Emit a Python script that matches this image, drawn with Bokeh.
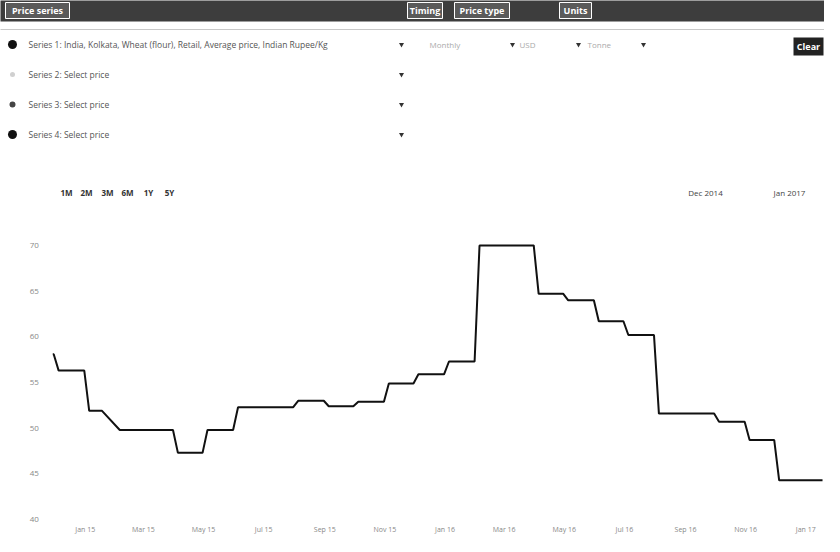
import pandas as pd
from bokeh.plotting import figure
from bokeh.layouts import column
from bokeh.models import Range1d, FixedTicker, DatetimeTickFormatter
from bokeh.core.properties import value
from bokeh.embed import file_html
from bokeh.resources import INLINE

# ---------------- data ----------------
months = ["2014-11", "2014-12", "2015-01", "2015-02", "2015-03", "2015-04", "2015-05",
          "2015-06", "2015-07", "2015-08", "2015-09", "2015-10", "2015-11", "2015-12",
          "2016-01", "2016-02", "2016-03", "2016-04", "2016-05", "2016-06", "2016-07",
          "2016-08", "2016-09", "2016-10", "2016-11", "2016-12", "2017-01"]
prices = [58.1, 56.3, 51.9, 49.8, 49.8, 47.3, 49.8,
          52.3, 52.3, 53.0, 52.4, 52.9, 54.9, 55.9,
          57.3, 70.0, 70.0, 64.7, 64.0, 61.7, 60.2,
          51.6, 51.6, 50.7, 48.7, 44.3, 44.3]
first_obs_day = {"2014-11": 29}
last_obs_day = {"2015-01": 18, "2017-01": 18}
y_ticks = [40, 45, 50, 55, 60, 65, 70]
x_tick_months = ["2015-01", "2015-03", "2015-05", "2015-07", "2015-09", "2015-11",
                 "2016-01", "2016-03", "2016-05", "2016-07", "2016-09", "2016-11", "2017-01"]

series_labels = ["Series 1: India, Kolkata, Wheat (flour), Retail, Average price, Indian Rupee/Kg",
                 "Series 2: Select price",
                 "Series 3: Select price",
                 "Series 4: Select price"]
header_labels = ["Price series", "Timing", "Price type", "Units"]
range_buttons = ["1M", "2M", "3M", "6M", "1Y", "5Y"]
date_inputs = ["Dec 2014", "Jan 2017"]
row1_options = ["Monthly", "USD", "Tonne"]

# observation points: each monthly price held from first to last weekly observation
xs, ys = [], []
for m, v in zip(months, prices):
    start = pd.Timestamp(f"{m}-{first_obs_day.get(m, 5):02d}")
    if m in last_obs_day:
        end = pd.Timestamp(f"{m}-{last_obs_day[m]:02d}")
    else:
        end = pd.Timestamp(f"{m}-01") + pd.offsets.MonthEnd(0)
    xs += [start, end]
    ys += [v, v]
xs = pd.DatetimeIndex(xs)
x_ticks = [pd.Timestamp(m + "-01").timestamp() * 1000 for m in x_tick_months]

FONT = value("Open Sans")

# ---------------- top UI panel ----------------
top = figure(width=824, height=205, x_range=Range1d(1, 825), y_range=Range1d(206, 1),
             x_axis_location=None, y_axis_location=None, toolbar_location=None,
             output_backend="svg", min_border=0, outline_line_color=None)
top.grid.visible = False

top.quad(left=[0], right=[840], top=[0], bottom=[22], fill_color="#3d3d3d", line_color=None)
tab_l = [6, 408, 455, 560]
tab_r = [70, 443, 510, 592]
top.quad(left=tab_l, right=tab_r, top=[3] * 4, bottom=[19] * 4,
         fill_color="#5a5a5a", line_color="#ffffff", line_width=1)
top.text(x=[(a + b) / 2 for a, b in zip(tab_l, tab_r)], y=[11] * 4, text=header_labels,
         text_font=FONT, text_font_size="9px", text_font_style="bold",
         text_color="#ffffff", text_align="center", text_baseline="middle")
top.segment(x0=[0], y0=[30], x1=[840], y1=[30], line_color="#c8c8c8", line_width=1)

rows_y = [45, 75, 105, 135]
top.scatter(x=[13] * 4, y=rows_y, size=[9, 5, 6, 9],
            fill_color=["#111111", "#d0d0d0", "#444444", "#111111"],
            line_color=None)
top.text(x=[29] * 4, y=rows_y, text=series_labels, text_font=FONT, text_font_size="8.5px",
         text_color="#555555", text_align="left", text_baseline="middle")
top.scatter(x=[402] * 4 + [513, 579, 644], y=rows_y + [45, 45, 45], marker="inverted_triangle",
            size=5, fill_color="#333333", line_color=None)
top.text(x=[430, 520, 588], y=[45] * 3, text=row1_options, text_font=FONT, text_font_size="8px",
         text_color="#aaaaaa", text_align="left", text_baseline="middle")

top.quad(left=[794], right=[824], top=[38], bottom=[56], fill_color="#222222", line_color=None)
top.text(x=[809], y=[47], text=["Clear"], text_font=FONT, text_font_size="9px",
         text_font_style="bold", text_color="#ffffff", text_align="center", text_baseline="middle")

top.text(x=[67, 87, 108, 128, 149, 170], y=[193] * 6, text=range_buttons, text_font=FONT,
         text_font_size="8px", text_font_style="bold", text_color="#333333",
         text_align="center", text_baseline="middle")
top.text(x=[706, 790], y=[193] * 2, text=date_inputs, text_font=FONT, text_font_size="8px",
         text_color="#444444", text_align="center", text_baseline="middle")

# ---------------- chart ----------------
chart = figure(width=824, height=331, x_axis_type="datetime",
               x_range=Range1d(pd.Timestamp("2014-10-07"), pd.Timestamp("2017-01-20")),
               y_range=Range1d(39.46, 70.65), y_axis_location=None,
               toolbar_location=None, output_backend="svg",
               min_border_left=0, min_border_right=0, min_border_top=34, min_border_bottom=10,
               outline_line_color=None)
chart.grid.visible = False

chart.line(x=xs, y=ys, line_color="#111111", line_width=2)

# y tick labels (frame spans the full width so it lines up with the panel above)
ylabel_x = pd.Timestamp("2014-11-15")
chart.text(x=[ylabel_x] * len(y_ticks), y=y_ticks, text=[str(t) for t in y_ticks],
           text_font=FONT, text_font_size="8px", text_color="#888888",
           text_align="right", text_baseline="middle")

chart.xaxis.ticker = FixedTicker(ticks=x_ticks)
chart.xaxis.formatter = DatetimeTickFormatter(months="%b %y", years="%b %y", days="%b %y")
chart.xaxis.axis_line_color = None
chart.xaxis.major_tick_line_color = None
chart.xaxis.minor_tick_line_color = None
chart.xaxis.major_label_text_font = "Open Sans"
chart.xaxis.major_label_text_font_size = "7px"
chart.xaxis.major_label_text_color = "#888888"
chart.xaxis.major_label_standoff = 0
chart.xaxis.major_tick_out = 0

layout = column(top, chart, spacing=0)
open("out.html", "w").write(file_html(layout, INLINE))
